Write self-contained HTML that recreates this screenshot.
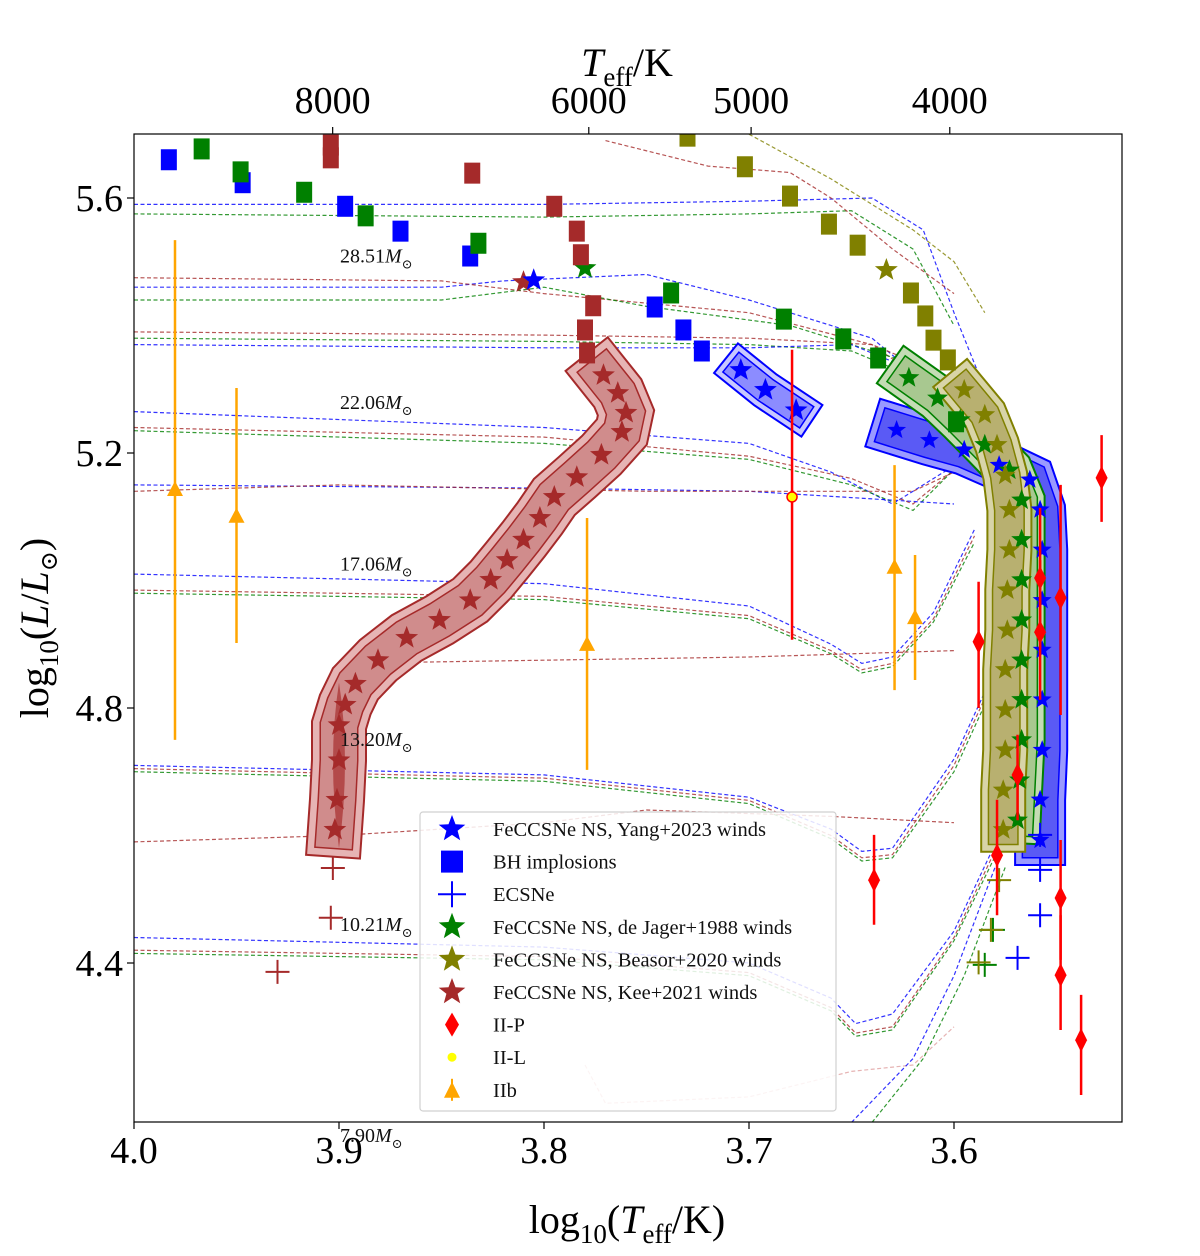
<!DOCTYPE html>
<html><head><meta charset="utf-8">
<style>
html,body{margin:0;padding:0;background:#fff;}
svg{display:block;font-family:"Liberation Serif","DejaVu Serif",serif;}
</style></head>
<body>
<svg id="chart" width="1200" height="1256" viewBox="0 0 1200 1256" xmlns="http://www.w3.org/2000/svg">
</svg>
<script>
// ---- data ----
const blueSqT=[3.983,3.947,3.897,3.870,3.836,3.746,3.732,3.723];
const blueSqL=[5.660,5.624,5.587,5.548,5.509,5.429,5.393,5.360];
const greenSqT=[3.967,3.948,3.917,3.887,3.832,3.738,3.683,3.654,3.637,3.599];
const greenSqL=[5.677,5.641,5.609,5.572,5.529,5.451,5.410,5.379,5.349,5.249];
const brownSqT=[3.904,3.904,3.835,3.795,3.784,3.782,3.776,3.780,3.779];
const brownSqL=[5.683,5.663,5.639,5.587,5.548,5.511,5.431,5.393,5.357];
const oliveSqT=[3.730,3.702,3.680,3.661,3.647,3.621,3.614,3.610,3.603];
const oliveSqL=[5.697,5.649,5.603,5.559,5.526,5.451,5.415,5.377,5.346];

const brownTrackT=[3.771,3.764,3.760,3.762,3.772,3.784,3.795,3.802,3.810,3.818,3.826,3.836,3.851,3.867,3.881,3.892,3.897,3.900,3.900,3.901,3.902];
const brownTrackL=[5.322,5.294,5.263,5.233,5.197,5.162,5.131,5.098,5.064,5.032,5.001,4.969,4.938,4.910,4.875,4.838,4.805,4.773,4.718,4.656,4.609];
const blueSmallT=[3.704,3.692,3.677];
const blueSmallL=[5.330,5.299,5.267];
const blueTrackT=[3.628,3.612,3.595,3.578,3.563,3.558,3.557,3.557,3.557,3.557,3.557,3.558,3.558];
const blueTrackL=[5.236,5.220,5.205,5.181,5.158,5.111,5.048,4.969,4.891,4.813,4.734,4.656,4.593];
const greenTrackT=[3.622,3.608,3.597,3.585,3.573,3.567,3.567,3.567,3.567,3.567,3.567,3.567,3.568,3.569];
const greenTrackL=[5.318,5.286,5.252,5.213,5.173,5.126,5.064,5.001,4.938,4.875,4.813,4.750,4.687,4.624];
const oliveTrackT=[3.595,3.585,3.579,3.575,3.573,3.573,3.574,3.574,3.575,3.575,3.575,3.576,3.576];
const oliveTrackL=[5.299,5.260,5.213,5.165,5.111,5.048,4.985,4.922,4.860,4.797,4.734,4.671,4.609];
const isoStarT=[3.810,3.805,3.780,3.633];
const isoStarL=[5.468,5.471,5.490,5.487];
const isoStarC=["#a52a2a","#0000ff","#008000","#808000"];

const crossT=[3.558,3.569,3.558,3.558,3.585,3.581,3.588,3.582,3.578,3.930,3.904,3.903];
const crossL=[4.475,4.408,4.546,4.601,4.397,4.452,4.401,4.452,4.530,4.386,4.471,4.549];
const crossC=["#0000ff","#0000ff","#0000ff","#0000ff","#008000","#008000","#808000","#808000","#808000","#a52a2a","#a52a2a","#a52a2a"];

const iipT=[3.528,3.588,3.558,3.558,3.548,3.569,3.579,3.639,3.548,3.548,3.538];
const iipL=[5.161,4.904,5.004,4.919,4.973,4.695,4.569,4.530,4.502,4.381,4.279];
const iipLo=[5.092,4.800,4.894,4.813,4.789,4.624,4.475,4.460,4.405,4.295,4.193];
const iipHi=[5.228,4.998,5.114,5.032,5.150,4.758,4.656,4.601,4.593,4.475,4.350];
const iilT=[3.679];const iilL=[5.131];const iilLo=[4.907];const iilHi=[5.362];
const iibT=[3.980,3.950,3.779,3.629,3.619];
const iibL=[5.142,5.100,4.899,5.020,4.941];
const iibLo=[4.750,4.902,4.703,4.828,4.844];
const iibHi=[5.534,5.302,5.098,5.181,5.040];

const xTicks=[4.0,3.9,3.8,3.7,3.6];
const yTicks=[4.4,4.8,5.2,5.6];
const topTicks=[8000,6000,5000,4000];
const massLabels=["28.51","22.06","17.06","13.20","10.21","7.90"];
const massLabelL=[5.510,5.280,5.027,4.751,4.461,4.130];

const tracks=[
 ["#0000ff",[[4.0,5.59],[3.80,5.59],[3.70,5.595],[3.64,5.60],[3.615,5.55],[3.60,5.42],[3.585,5.30]]],
 ["#008000",[[4.0,5.575],[3.80,5.57],[3.70,5.575],[3.65,5.58],[3.62,5.52],[3.60,5.40]]],
 ["#0000ff",[[4.0,5.46],[3.85,5.46],[3.82,5.47],[3.75,5.48],[3.70,5.44],[3.64,5.38],[3.61,5.30]]],
 ["#a52a2a",[[4.0,5.475],[3.85,5.47],[3.80,5.45],[3.70,5.42],[3.64,5.37],[3.60,5.28]]],
 ["#008000",[[4.0,5.44],[3.85,5.44],[3.80,5.46],[3.75,5.43],[3.68,5.40],[3.62,5.34],[3.60,5.25]]],
 ["#008000",[[4.0,5.38],[3.80,5.375],[3.70,5.37],[3.65,5.36],[3.62,5.32]]],
 ["#0000ff",[[4.0,5.37],[3.80,5.365],[3.70,5.365],[3.65,5.37],[3.62,5.33],[3.59,5.22]]],
 ["#a52a2a",[[4.0,5.39],[3.80,5.385],[3.70,5.38],[3.64,5.37],[3.61,5.33]]],
 ["#0000ff",[[4.0,5.265],[3.80,5.24],[3.70,5.215],[3.66,5.17],[3.63,5.12],[3.60,5.18],[3.58,5.22]]],
 ["#a52a2a",[[4.0,5.24],[3.80,5.225],[3.70,5.195],[3.65,5.16],[3.62,5.12],[3.59,5.20]]],
 ["#008000",[[4.0,5.235],[3.80,5.215],[3.70,5.19],[3.65,5.15],[3.62,5.11],[3.595,5.19]]],
 ["#0000ff",[[4.0,5.15],[3.80,5.145],[3.70,5.14],[3.65,5.13],[3.60,5.12]]],
 ["#a52a2a",[[4.0,5.14],[3.90,5.15],[3.75,5.14],[3.62,5.14],[3.60,5.17]]],
 ["#0000ff",[[4.0,5.01],[3.80,4.995],[3.70,4.96],[3.66,4.90],[3.645,4.87],[3.63,4.88],[3.61,4.95],[3.59,5.08]]],
 ["#a52a2a",[[4.0,4.985],[3.80,4.975],[3.70,4.945],[3.66,4.89],[3.645,4.86],[3.63,4.87],[3.61,4.94],[3.59,5.07]]],
 ["#008000",[[4.0,4.98],[3.80,4.97],[3.70,4.94],[3.66,4.885],[3.645,4.855],[3.63,4.865],[3.61,4.935],[3.59,5.06]]],
 ["#a52a2a",[[3.90,4.87],[3.80,4.875],[3.70,4.88],[3.60,4.89]]],
 ["#0000ff",[[4.0,4.71],[3.80,4.695],[3.70,4.66],[3.66,4.61],[3.645,4.575],[3.63,4.58],[3.60,4.72],[3.58,4.86]]],
 ["#a52a2a",[[4.0,4.705],[3.80,4.69],[3.70,4.655],[3.66,4.60],[3.645,4.565],[3.63,4.57],[3.60,4.71],[3.58,4.85]]],
 ["#008000",[[4.0,4.70],[3.80,4.685],[3.70,4.65],[3.66,4.595],[3.645,4.56],[3.63,4.565],[3.60,4.70],[3.58,4.84]]],
 ["#a52a2a",[[4.0,4.59],[3.90,4.60],[3.80,4.62],[3.75,4.64],[3.66,4.63],[3.60,4.62]]],
 ["#0000ff",[[4.0,4.44],[3.80,4.425],[3.70,4.40],[3.66,4.345],[3.648,4.305],[3.63,4.32],[3.60,4.45],[3.575,4.62]]],
 ["#a52a2a",[[4.0,4.42],[3.80,4.41],[3.70,4.385],[3.66,4.33],[3.648,4.29],[3.63,4.30],[3.60,4.44],[3.575,4.61]]],
 ["#008000",[[4.0,4.415],[3.80,4.405],[3.70,4.38],[3.66,4.325],[3.648,4.285],[3.63,4.295],[3.60,4.435],[3.575,4.60]]],
 ["#e0a0a0",[[3.78,4.24],[3.77,4.18],[3.70,4.19],[3.65,4.23],[3.62,4.24],[3.60,4.30]]],
 ["#0000ff",[[3.65,4.15],[3.62,4.25],[3.60,4.38],[3.58,4.55]]],
 ["#008000",[[3.64,4.15],[3.615,4.25],[3.595,4.38],[3.575,4.55]]],
 ["#808000",[[3.70,5.70],[3.66,5.63],[3.62,5.55],[3.60,5.50],[3.585,5.42]]],
 ["#a52a2a",[[3.77,5.69],[3.72,5.65],[3.68,5.64],[3.66,5.60],[3.63,5.52],[3.60,5.45]]]
];

// ---- axes ----
const X0=134,X1=1122,Y0=134,Y1=1122;
const xs=t=>X0+(4.0-t)*2050;
const ys=l=>198+(5.6-l)*637.5;
const NS="http://www.w3.org/2000/svg";
const svg=document.getElementById('chart');
function el(tag,attrs,parent){const e=document.createElementNS(NS,tag);for(const k in attrs)e.setAttribute(k,attrs[k]);(parent||svg).appendChild(e);return e;}

const clip=el('clipPath',{id:'pc'});el('rect',{x:X0,y:Y0,width:X1-X0,height:Y1-Y0},clip);
const plot=el('g',{'clip-path':'url(#pc)'});



tracks.forEach((tr,i)=>{
  const d=tr[1].map((p,j)=>(j?'L':'M')+xs(p[0]).toFixed(1)+','+ys(p[1]).toFixed(1)).join(' ');
  const p=el('path',{d:d,fill:'none',stroke:tr[0],'stroke-width':1.2,'stroke-dasharray':'4,2.5',opacity:0.8},plot);
  
  
});

function starPath(cx,cy,r){let s='';for(let i=0;i<10;i++){const a=-Math.PI/2+i*Math.PI/5;const rr=i%2?r*0.42:r;s+=(i?'L':'M')+(cx+rr*Math.cos(a)).toFixed(1)+','+(cy+rr*Math.sin(a)).toFixed(1);}return s+'Z';}
function band(T,L,color,fillO,fillI,wO,wI){
  const d=T.map((t,i)=>(i?'L':'M')+xs(t).toFixed(1)+','+ys(L[i]).toFixed(1)).join(' ');
  const g=el('g',{},plot);
  
  
  el('path',{d:d,fill:'none',stroke:color,'stroke-width':wO+4,'stroke-linejoin':'miter','stroke-linecap':'square'},g);
  el('path',{d:d,fill:'none',stroke:fillO,'stroke-width':wO,'stroke-linejoin':'miter','stroke-linecap':'square'},g);
  el('path',{d:d,fill:'none',stroke:color,'stroke-width':wI+3,'stroke-linejoin':'miter','stroke-linecap':'square'},g);
  el('path',{d:d,fill:'none',stroke:fillI,'stroke-width':wI,'stroke-linejoin':'miter','stroke-linecap':'square'},g);
}
band(brownTrackT,brownTrackL,'#a52a2a','#e6b4b4','#d08c8c',52,36);
band(blueSmallT,blueSmallL,'#0000ff','#c8c8ff','#8c8cff',36,24);
band(blueTrackT,blueTrackL,'#0000ff','#9a9aff','#5a5af5',48,34);
band(greenTrackT,greenTrackL,'#008000','#c4dcb4','#a8c890',44,30);
band(oliveTrackT,oliveTrackL,'#808000','#d8d4a8','#b8b070',42,28);
const blob=el('path',{d:'M'+xs(3.900)+','+ys(4.84)+' Q'+(xs(3.900)+12)+','+ys(4.72)+' '+xs(3.900)+','+ys(4.58)+' Q'+(xs(3.900)-12)+','+ys(4.72)+' '+xs(3.900)+','+ys(4.84)+'Z',fill:'#b34a4a'},plot);



function stars(T,L,c,r,name){T.forEach((t,i)=>{const s=el('path',{d:starPath(xs(t),ys(L[i]),r),fill:c},plot);
  
  });}
stars(brownTrackT,brownTrackL,'#a52a2a',12,'kee-star');
stars(blueSmallT,blueSmallL,'#0000ff',12,'yang-star');
stars(blueTrackT,blueTrackL,'#0000ff',10,'yang-star');
stars(greenTrackT,greenTrackL,'#008000',11,'dejager-star');
stars(oliveTrackT,oliveTrackL,'#808000',11,'beasor-star');
isoStarT.forEach((t,i)=>{const s=el('path',{d:starPath(xs(t),ys(isoStarL[i]),12),fill:isoStarC[i]},plot);
  
  });

function squares(T,L,c){T.forEach((t,i)=>{const r=el('rect',{x:xs(t)-8,y:ys(L[i])-10.5,width:16,height:21,fill:c},plot);
  
  });}
squares(blueSqT,blueSqL,'#0000ff');
squares(greenSqT,greenSqL,'#008000');
squares(brownSqT,brownSqL,'#a52a2a');
squares(oliveSqT,oliveSqL,'#808000');

crossT.forEach((t,i)=>{const x=xs(t),y=ys(crossL[i]);
  const c=el('path',{d:`M${x-12},${y}H${x+12}M${x},${y-12}V${y+12}`,stroke:crossC[i],'stroke-width':2,fill:'none'},plot);
  
  });

iipT.forEach((t,i)=>{const x=xs(t),y=ys(iipL[i]);
  const g=el('g',{},plot);
  
  
  el('line',{x1:x,x2:x,y1:ys(iipLo[i]),y2:ys(iipHi[i]),stroke:'#ff0000','stroke-width':2.5},g);
  el('path',{d:`M${x},${y-12}L${x+6},${y}L${x},${y+12}L${x-6},${y}Z`,fill:'#ff0000'},g);});
iilT.forEach((t,i)=>{const x=xs(t),y=ys(iilL[i]);
  const g=el('g',{},plot);
  
  
  el('line',{x1:x,x2:x,y1:ys(iilLo[i]),y2:ys(iilHi[i]),stroke:'#ff0000','stroke-width':2.5},g);
  el('circle',{cx:x,cy:y,r:5,fill:'#ffff00',stroke:'#ff0000','stroke-width':1.5},g);});
iibT.forEach((t,i)=>{const x=xs(t),y=ys(iibL[i]);
  const g=el('g',{},plot);
  
  
  el('line',{x1:x,x2:x,y1:ys(iibLo[i]),y2:ys(iibHi[i]),stroke:'#ffa500','stroke-width':2.5},g);
  el('path',{d:`M${x},${y-9}L${x+8},${y+6}L${x-8},${y+6}Z`,fill:'#ffa500'},g);});

massLabels.forEach((m,i)=>{const t=el('text',{x:340,y:ys(massLabelL[i])+7,'font-size':20,fill:'#111'});
  
  
  t.innerHTML=m+'<tspan font-style="italic">M</tspan><tspan font-size="13" dy="6">⊙</tspan>';});

const fr=el('rect',{x:X0,y:Y0,width:X1-X0,height:Y1-Y0,fill:'none',stroke:'#000','stroke-width':1.2});



xTicks.forEach(v=>{const x=xs(v);el('line',{x1:x,x2:x,y1:Y1,y2:Y1+7,stroke:'#000','stroke-width':1.2});
  const t=el('text',{x:x,y:1163,'font-size':38,'text-anchor':'middle'});
  
  
  t.textContent=v.toFixed(1);});
yTicks.forEach(v=>{const y=ys(v);el('line',{x1:X0-7,x2:X0,y1:y,y2:y,stroke:'#000','stroke-width':1.2});
  const t=el('text',{x:123,y:y+13,'font-size':38,'text-anchor':'end'});
  
  
  t.textContent=v.toFixed(1);});
topTicks.forEach(v=>{const x=xs(Math.log10(v));el('line',{x1:x,x2:x,y1:Y0-7,y2:Y0,stroke:'#000','stroke-width':1.2});
  const t=el('text',{x:x,y:113,'font-size':38,'text-anchor':'middle'});
  
  
  t.textContent=v;});

const lg=el('g',{});


el('rect',{x:420,y:812,width:416,height:299,rx:3,fill:'#fff','fill-opacity':0.85,stroke:'#d0d0d0','stroke-width':1.2},lg);
const legItems=[
 ['star','#0000ff','FeCCSNe NS, Yang+2023 winds'],
 ['square','#0000ff','BH implosions'],
 ['cross','#0000ff','ECSNe'],
 ['star','#008000','FeCCSNe NS, de Jager+1988 winds'],
 ['star','#808000','FeCCSNe NS, Beasor+2020 winds'],
 ['star','#a52a2a','FeCCSNe NS, Kee+2021 winds'],
 ['diamond','#ff0000','II-P'],
 ['dot','#ffff00','II-L'],
 ['tri','#ffa500','IIb']];
legItems.forEach((it,i)=>{const y=829+i*32.6,x=452;
  const g=el('g',{},lg);
  
  
  if(it[0]=='star')el('path',{d:starPath(x,y,14),fill:it[1]},g);
  if(it[0]=='square')el('rect',{x:x-11,y:y-11,width:22,height:22,fill:it[1]},g);
  if(it[0]=='cross')el('path',{d:`M${x-14},${y}H${x+14}M${x},${y-13}V${y+13}`,stroke:it[1],'stroke-width':2,fill:'none'},g);
  if(it[0]=='diamond')el('path',{d:`M${x},${y-12}L${x+7},${y}L${x},${y+12}L${x-7},${y}Z`,fill:it[1]},g);
  if(it[0]=='dot')el('circle',{cx:x,cy:y,r:4.5,fill:it[1]},g);
  if(it[0]=='tri'){el('line',{x1:x,x2:x,y1:y-11,y2:y+11,stroke:it[1],'stroke-width':2},g);el('path',{d:`M${x},${y-8}L${x+8},${y+8}L${x-8},${y+8}Z`,fill:it[1]},g);}
  const t=el('text',{x:493,y:y+7,'font-size':20.5,fill:'#111'},g);
  t.textContent=it[2];});

const xt=el('text',{x:627,y:1233,'font-size':40,'text-anchor':'middle'});


xt.innerHTML='log<tspan font-size="27" dy="10">10</tspan><tspan dy="-10">(</tspan><tspan font-style="italic">T</tspan><tspan font-size="27" dy="10">eff</tspan><tspan dy="-10">/K)</tspan>';
const tt=el('text',{x:627,y:76,'font-size':40,'text-anchor':'middle'});


tt.innerHTML='<tspan font-style="italic">T</tspan><tspan font-size="27" dy="10">eff</tspan><tspan dy="-10">/K</tspan>';
const yt=el('text',{x:0,y:0,'font-size':40,'text-anchor':'middle',transform:'translate(48,628) rotate(-90)'});


yt.innerHTML='log<tspan font-size="27" dy="10">10</tspan><tspan dy="-10">(</tspan><tspan font-style="italic">L</tspan><tspan>/</tspan><tspan font-style="italic">L</tspan><tspan font-size="24" dy="9">⊙</tspan><tspan dy="-9">)</tspan>';
</script>
</body></html>
